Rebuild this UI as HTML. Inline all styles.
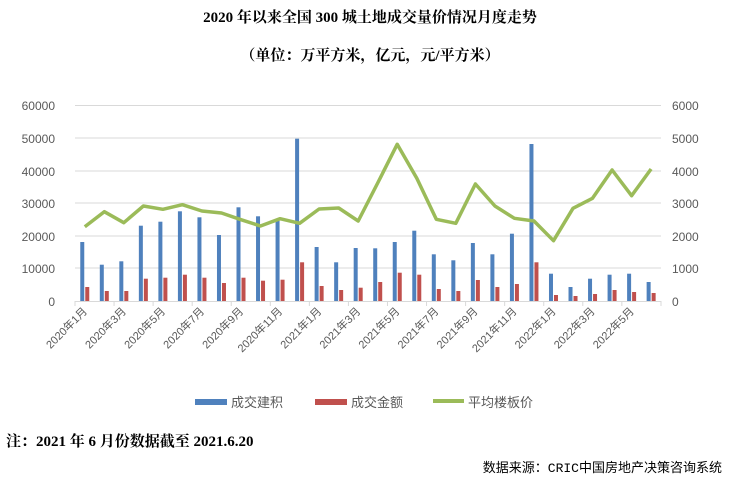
<!DOCTYPE html>
<html><head><meta charset="utf-8"><style>
body{margin:0;background:#fff;width:740px;height:482px;overflow:hidden}
svg{display:block}
.ax{font-family:"Liberation Sans",sans-serif;font-size:12px;fill:#595959}
.xl{font-family:"Liberation Sans","Noto Sans CJK SC",sans-serif;font-size:11px;fill:#595959}
</style></head><body>
<svg width="740" height="482" xmlns="http://www.w3.org/2000/svg">
<text x="370" y="22" text-anchor="middle" font-family="Liberation Serif,'Noto Serif CJK SC',serif" font-weight="bold" font-size="15" fill="#000">2020 年以来全国 300 城土地成交量价情况月度走势</text>
<text x="370" y="60" text-anchor="middle" font-family="Liberation Serif,'Noto Serif CJK SC',serif" font-weight="bold" font-size="15" fill="#000">（单位：万平方米，亿元，元/平方米）</text>
<g stroke="#d9d9d9" stroke-width="1">
<line x1="75" y1="105.5" x2="661" y2="105.5"/><line x1="75" y1="138" x2="661" y2="138"/><line x1="75" y1="171" x2="661" y2="171"/><line x1="75" y1="203" x2="661" y2="203"/><line x1="75" y1="236" x2="661" y2="236"/><line x1="75" y1="268" x2="661" y2="268"/><line x1="75" y1="301.5" x2="661" y2="301.5"/>
</g>
<g class="ax" text-anchor="end">
<text x="55" y="110">60000</text><text x="55" y="143">50000</text><text x="55" y="176">40000</text><text x="55" y="208">30000</text><text x="55" y="241">20000</text><text x="55" y="273">10000</text><text x="55" y="306">0</text>
</g>
<g class="ax" text-anchor="start">
<text x="672" y="110">6000</text><text x="672" y="143">5000</text><text x="672" y="176">4000</text><text x="672" y="208">3000</text><text x="672" y="241">2000</text><text x="672" y="273">1000</text><text x="672" y="306">0</text>
</g>
<g id="bars"></g>
<polyline id="ln" fill="none" stroke="#9bbb59" stroke-width="3.5" stroke-linejoin="round"/>
<g id="ticks" stroke="#d9d9d9"></g>
<g id="xl"></g>
<rect x="195" y="399" width="32" height="6" fill="#4f81bd"/>
<text x="231" y="407" font-family="Liberation Sans,'Noto Sans CJK SC',sans-serif" font-size="13" fill="#595959">成交建积</text>
<rect x="315" y="399" width="32" height="6" fill="#c0504d"/>
<text x="351" y="407" font-family="Liberation Sans,'Noto Sans CJK SC',sans-serif" font-size="13" fill="#595959">成交金额</text>
<rect x="433" y="399" width="31" height="4" fill="#9bbb59"/>
<text x="468" y="407" font-family="Liberation Sans,'Noto Sans CJK SC',sans-serif" font-size="13" fill="#595959">平均楼板价</text>
<text x="6" y="446" font-family="Liberation Serif,'Noto Serif CJK SC',serif" font-weight="bold" font-size="15" fill="#000">注：2021 年 6 月份数据截至 2021.6.20</text>
<text x="722" y="472" text-anchor="end" font-family="Liberation Mono,'Noto Sans CJK SC',monospace" font-size="13" fill="#000">数据来源：CRIC中国房地产决策咨询系统</text>
</svg>
<script>
var B=[242,264.7,261.3,225.7,221.7,211.3,217.3,235,207.3,216.3,220.7,138.7,247,262.3,248,248.3,242,230.7,254.3,260.3,243,254.3,233.7,144,273.7,287,278.7,274.7,273.7,282];
var R=[287,291,291,278.7,277.7,274.7,277.7,283,277.7,280.7,279.7,262.3,286,290,287.7,282,272.7,274.7,289,291,280,287,284,262.3,295,296,294,290,292,293];
var G=[226.7,211.7,222.7,206,209.3,204.7,211,213,219.7,226,218.7,223.3,209,208,221,183,144.3,178.3,219.3,223.3,184,206,218.3,221,240.7,208.3,198.3,170,195.7,169];
var ns="http://www.w3.org/2000/svg",bars=document.getElementById('bars'),pts=[],tk=document.getElementById('ticks'),xl=document.getElementById('xl');
function el(t,a,p){var e=document.createElementNS(ns,t);for(var k in a)e.setAttribute(k,a[k]);p.appendChild(e);return e;}
for(var i=0;i<30;i++){var c=75+19.53*(i+0.5);
el('rect',{x:c-4.5,y:B[i],width:4,height:301-B[i],fill:'#4f81bd'},bars);
el('rect',{x:c+0.5,y:R[i],width:4,height:301-R[i],fill:'#c0504d'},bars);
pts.push(c.toFixed(1)+','+G[i]);
if(i%2==0){var tx=75+19.53*i;el('line',{x1:tx,y1:301,x2:tx,y2:306},tk);
var y=(i<12?2020:i<24?2021:2022),m=(i%12)+1;
var t=el('text',{x:c+3,y:312,'text-anchor':'end',transform:'rotate(-45 '+(c+3)+' 312)','class':'xl'},xl);t.textContent=y+'年'+m+'月';}}
el('line',{x1:661,y1:301,x2:661,y2:306},tk);
document.getElementById('ln').setAttribute('points',pts.join(' '));
</script>
</body></html>
